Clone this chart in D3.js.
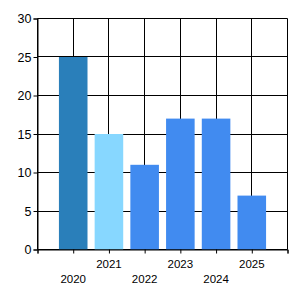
<!DOCTYPE html>
<html>
<head>
<meta charset="utf-8">
<script src="https://cdn.jsdelivr.net/npm/d3@7"></script>
<style>
    body { margin: 0; background: #fff; }
    text { font-family: "Liberation Sans", Arial, sans-serif; fill: #000; }
</style>
</head>
<body>
<svg id="drawing_region"></svg>
<script>
const years = ['2020', '2021', '2022', '2023', '2024', '2025'];
const values = [25, 15, 11, 17, 17, 7];
const colors = ['#2a7fba', '#87d7ff', '#418bf0', '#418bf0', '#418bf0', '#418bf0'];
const yticks = [0, 5, 10, 15, 20, 25, 30];

const config = {
    width: 300,
    height: 300,
    margin: { top: 18, right: 13, bottom: 51, left: 37 }
};

const svg = d3.select('#drawing_region')
    .attr('width', config.width)
    .attr('height', config.height);

const inner_width = config.width - config.margin.left - config.margin.right;
const inner_height = config.height - config.margin.top - config.margin.bottom;

const chart = svg.append('g')
    .attr('transform', `translate(${config.margin.left + 0.5}, ${config.margin.top + 0.5})`);

// x is a linear scale: one slot on each side, bars sit on integer ticks
const xscale = d3.scaleLinear()
    .domain([0, years.length + 1])
    .range([0, inner_width]);

const yscale = d3.scaleLinear()
    .domain([0, 30])
    .range([inner_height, 0]);

const xticks = d3.range(0, years.length + 2);

// grid
chart.append('g')
    .selectAll('line')
    .data(yticks)
    .join('line')
    .attr('x1', 0)
    .attr('x2', inner_width)
    .attr('y1', d => Math.round(yscale(d)))
    .attr('y2', d => Math.round(yscale(d)))
    .attr('stroke', '#000');

chart.append('g')
    .selectAll('line')
    .data(xticks)
    .join('line')
    .attr('x1', d => Math.round(xscale(d)))
    .attr('x2', d => Math.round(xscale(d)))
    .attr('y1', 0)
    .attr('y2', inner_height)
    .attr('stroke', '#000');

// bars
const bar_width = (xscale(1) - xscale(0)) * 0.8;
chart.selectAll('rect')
    .data(values)
    .join('rect')
    .attr('x', (d, i) => xscale(i + 1) - bar_width / 2)
    .attr('y', d => yscale(d))
    .attr('width', bar_width)
    .attr('height', d => yscale(0) - yscale(d))
    .attr('fill', (d, i) => colors[i]);

// axes
const yaxis = d3.axisLeft(yscale)
    .tickValues(yticks)
    .tickSize(4)
    .tickPadding(2);

const xaxis = d3.axisBottom(xscale)
    .tickValues(xticks)
    .tickSize(4)
    .tickFormat('');

const yaxis_group = chart.append('g').call(yaxis);
yaxis_group.selectAll('text')
    .style('font-size', '12.5px')
    .attr('font-family', null);

const xaxis_group = chart.append('g')
    .attr('transform', `translate(0, ${inner_height})`)
    .call(xaxis);

chart.selectAll('.domain, .tick line')
    .attr('stroke', '#000');

// staggered year labels
chart.append('g')
    .selectAll('text')
    .data(years)
    .join('text')
    .attr('x', (d, i) => xscale(i + 1))
    .attr('y', (d, i) => inner_height + (i % 2 === 0 ? 29 : 14))
    .attr('text-anchor', 'middle')
    .attr('dominant-baseline', 'central')
    .style('font-size', '11.5px')
    .text(d => d);
</script>
</body>
</html>
